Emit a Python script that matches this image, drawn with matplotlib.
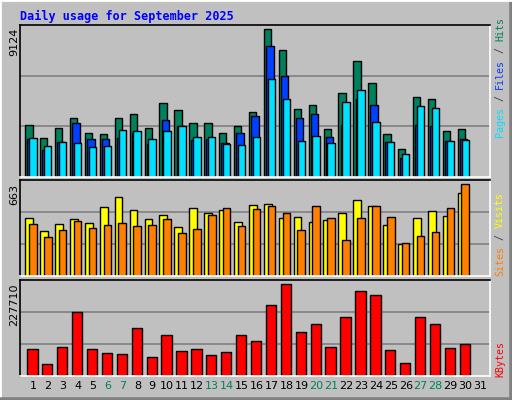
import matplotlib
matplotlib.use("Agg")
import matplotlib.pyplot as plt
import numpy as np

days = list(range(1, 32))
hits = [3241,2436,3055,3674,2745,2683,3674,3922,3055,4603,4169,3364,3364,2745,3179,4045,9124,7823,4231,4479,2993,5160,7142,5779,2683,1754,4974,4850,2869,2993,0]
files = [2332,1692,2147,3364,2374,2374,2436,2745,2064,3550,3179,2312,2374,2126,2745,3798,8070,6213,3674,3922,2497,3241,4850,4479,2147,1197,3241,3179,2250,2374,0]
pages = [2436,1940,2188,2126,1878,1940,2931,2869,2374,2869,3179,2497,2497,2064,2002,2497,6027,4850,2250,2559,2126,4665,5346,3426,2188,1445,4417,4293,2250,2312,0]
visits = [418,324,375,411,382,497,569,476,411,440,353,490,454,476,389,512,519,418,425,389,404,454,548,504,368,231,418,468,432,598,0]
sites = [375,281,331,396,346,368,382,360,368,411,310,339,440,490,360,483,504,454,331,504,418,259,418,504,425,238,288,317,490,663,0]
kbytes = [66480,28254,70635,158721,66480,55677,53184,118002,45705,100551,60663,66480,50691,58170,100551,85593,175341,227710,108030,127974,70635,145425,210243,200271,63156,30747,145425,127974,68142,78114,0]
weekend = [6,7,13,14,20,21,27,28]

BG = "#C0C0C0"
fig = plt.figure(figsize=(5.12, 4.0), dpi=100, facecolor=BG)
x = np.array(days, dtype=float)
mono = "DejaVu Sans Mono"

def mkax(rect, ymax):
    ax = fig.add_axes(rect, facecolor=BG)
    ax.set_xlim(0.129, 31.68)
    ax.set_ylim(0, ymax)
    for f in (1/3, 2/3):
        ax.axhline(ymax*f, color="#808080", lw=1.2, zorder=0)
    ax.set_xticks([]); ax.set_yticks([])
    for s in ("top", "left"):
        ax.spines[s].set_color("black")
    for s in ("bottom", "right"):
        ax.spines[s].set_color("white")
    for s in ax.spines.values():
        s.set_linewidth(1.2)
    return ax

def bars(ax, vals, off, w, col):
    v = np.array(vals)
    m = v > 0
    ax.bar(x[m] + off, v[m], width=w, color=col, edgecolor="black", linewidth=1.0, zorder=2)

ax1 = mkax([0.039, 0.5575, 0.919, 0.38], 9124*455/442)
bars(ax1, hits, -0.27, 0.49, "#00805C")
bars(ax1, files, -0.12, 0.5, "#0040FF")
bars(ax1, pages, -0.01, 0.5, "#00E0FF")

ax2 = mkax([0.039, 0.309, 0.919, 0.24], 663*288/276)
bars(ax2, visits, -0.26, 0.52, "#FFFF00")
bars(ax2, sites, -0.01, 0.51, "#FF8000")

ax3 = mkax([0.039, 0.0607, 0.919, 0.2385], 227710*286/274)
bars(ax3, kbytes, -0.04, 0.69, "#FF0000")

for d in days:
    ax3.text(d, -0.06, str(d), transform=ax3.get_xaxis_transform(), ha="center", va="top",
             fontsize=8, family="DejaVu Sans", color="#00805C" if d in weekend else "black")

fig.text(20/512, 1-16/400, "Daily usage for September 2025", fontsize=8.5, weight="bold",
         family=mono, color="#0000FF", va="center", ha="left")

fig.text(14/512, 1-28/400, "9124", rotation=90, fontsize=8, va="top", ha="center", family="DejaVu Sans")
fig.text(14/512, 1-184/400, "663", rotation=90, fontsize=8, va="top", ha="center", family="DejaVu Sans")
fig.text(14/512, 1-284/400, "227710", rotation=90, fontsize=8, va="top", ha="center", family="DejaVu Sans")

FS = 7.2
def rlabel(parts, ybot_px):
    y = 1 - ybot_px/400
    cw = 0.602*FS*100/72/400
    for txt, col in parts:
        fig.text(500/512, y, txt, rotation=90, fontsize=FS, family=mono, color=col,
                 va="bottom", ha="center", rotation_mode="anchor" if False else "default")
        y += cw*len(txt)

rlabel([("Pages", "#00E0FF"), (" / ", "#404040"), ("Files", "#0040FF"), (" / ", "#404040"), ("Hits", "#00805C")], 137)
rlabel([("Sites", "#FF8000"), (" / ", "#404040"), ("Visits", "#FFFF00")], 276)
rlabel([("KBytes", "#FF0000")], 377)

fr = fig.add_axes([0, 0, 1, 1], facecolor="none", zorder=-1)
fr.set_xticks([]); fr.set_yticks([])
for s in ("top", "left"):
    fr.spines[s].set_color("white"); fr.spines[s].set_linewidth(2)
for s in ("bottom", "right"):
    fr.spines[s].set_color("#808080"); fr.spines[s].set_linewidth(4)

fig.savefig("out.png", dpi=100, facecolor=BG)
